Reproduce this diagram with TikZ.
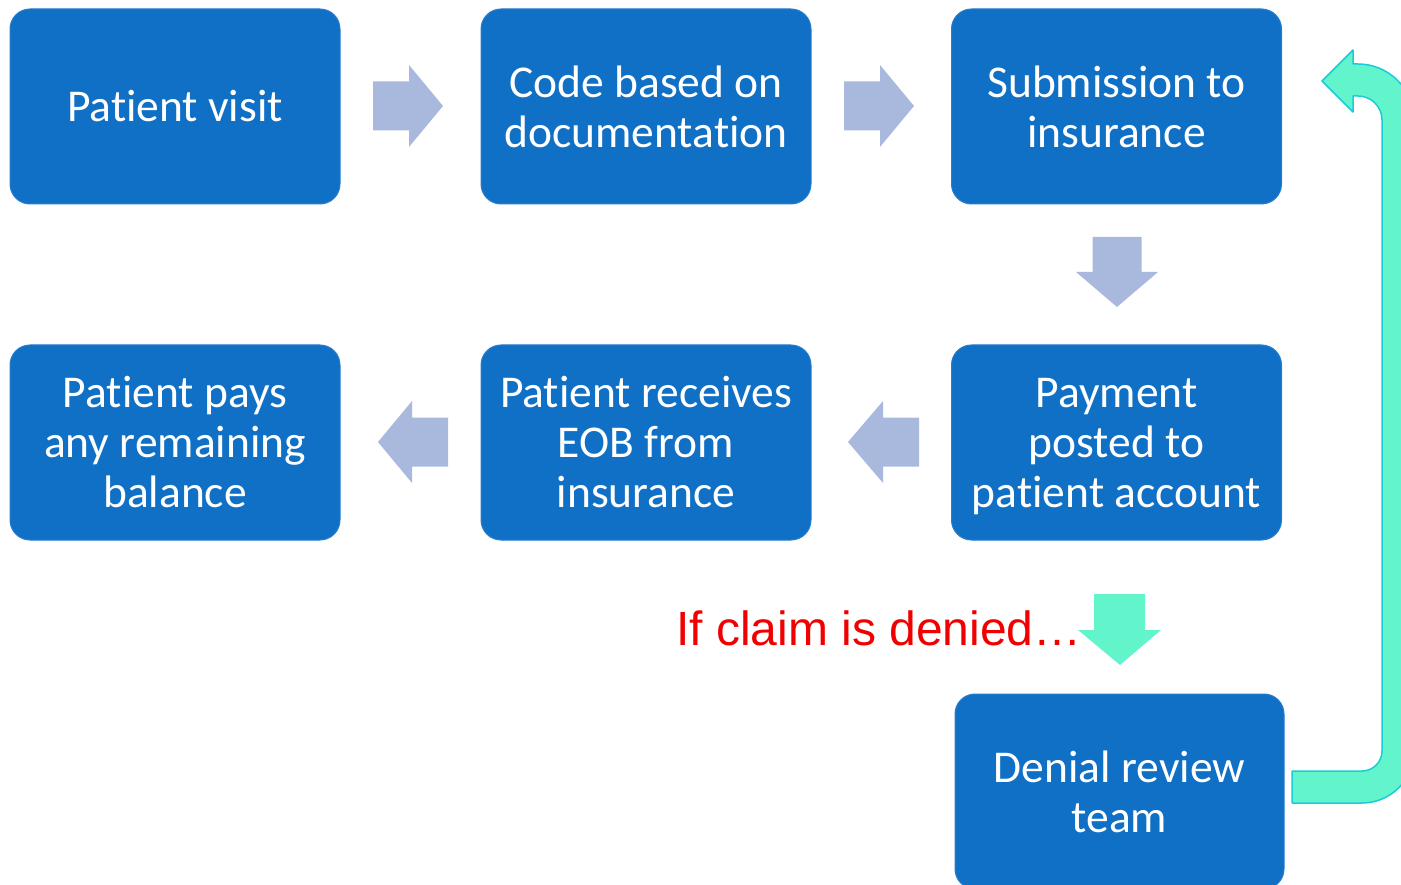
\documentclass[tikz,border=0pt]{standalone}
\usepackage{fontspec}
\setmainfont{Carlito}[Ligatures=NoCommon]
\newfontfamily\arialf{Liberation Sans}
\definecolor{boxblue}{RGB}{16,112,198}
\definecolor{boxedge}{RGB}{40,125,205}
\definecolor{lightarrow}{RGB}{169,185,222}
\definecolor{mint}{RGB}{98,245,203}
\definecolor{cyanedge}{RGB}{25,204,218}
\definecolor{redtext}{RGB}{240,0,0}
\begin{document}
\begin{tikzpicture}[x=1pt,y=-1pt]
\tikzset{
  box/.style={rectangle, rounded corners=20pt, fill=boxblue, draw=boxedge, line width=1pt,
    minimum width=330pt, minimum height=195pt, inner sep=0pt, text=white, align=center,
    font=\fontsize{45.5}{50}\selectfont},
  flowarrow/.style={fill=lightarrow},
  greenarrow/.style={fill=mint},
  returnarrow/.style={fill=mint, draw=cyanedge, line width=1.5pt, line join=round}
}
\useasboundingbox (0,0) rectangle (1401,885);
\clip (0,0) rectangle (1401,885);

% boxes
\node[box] (b1) at (175,106.5) {Patient visit};
\node[box] (b2) at (646,106.5) {Code based on\\documentation};
\node[box] (b3) at (1116.5,106.5) {Submission to\\insurance};
\node[box] (b4) at (175,442.5) {Patient pays\\any remaining\\balance};
\node[box] (b5) at (646,442.5) {Patient receives\\EOB from\\insurance};
\node[box] (b6) at (1116.5,442.5) {Payment\\posted to\\\smash{patient account}};
\node[box, minimum width=329pt] (b7) at (1119.5,791.5) {Denial review\\team};

% right arrows (row 1)
\fill[flowarrow] (373,81.5) -- (409,81.5) -- (409,65) -- (443,106) -- (409,147) -- (409,130.5) -- (373,130.5) -- cycle;
\fill[flowarrow] (844,81.5) -- (880,81.5) -- (880,65) -- (914,106) -- (880,147) -- (880,130.5) -- (844,130.5) -- cycle;
% down arrow
\fill[flowarrow] (1092.5,237) -- (1141.5,237) -- (1141.5,272) -- (1158,272) -- (1117,307) -- (1076,272) -- (1092.5,272) -- cycle;
% left arrows (row 2)
\fill[flowarrow] (448,417.5) -- (412,417.5) -- (412,401) -- (378,442) -- (412,483) -- (412,466.5) -- (448,466.5) -- cycle;
\fill[flowarrow] (919,417.5) -- (883,417.5) -- (883,401) -- (848,442) -- (883,483) -- (883,466.5) -- (919,466.5) -- cycle;

% red label
\node[anchor=base west, inner sep=0pt, text=redtext, font=\arialf\fontsize{48}{50}\selectfont] (lbl) at (676,645) {If claim is denied\ldots};

% green down arrow
\fill[greenarrow] (1094,594) -- (1145,594) -- (1145,630) -- (1161,630) -- (1120,665) -- (1078,630) -- (1094,630) -- cycle;

% return arrow
\draw[returnarrow] (1292,771) -- (1362,771) arc[start angle=90, end angle=0, radius=20]
  -- (1382,120) arc[start angle=0, end angle=-90, radius=24]
  -- (1353,96) -- (1353,112) -- (1322,81) -- (1353,50) -- (1353,64) -- (1358,64)
  arc[start angle=-90, end angle=0, radius=56]
  -- (1414,751) arc[start angle=0, end angle=90, radius=52]
  -- (1292,803) -- cycle;
\end{tikzpicture}
\end{document}
